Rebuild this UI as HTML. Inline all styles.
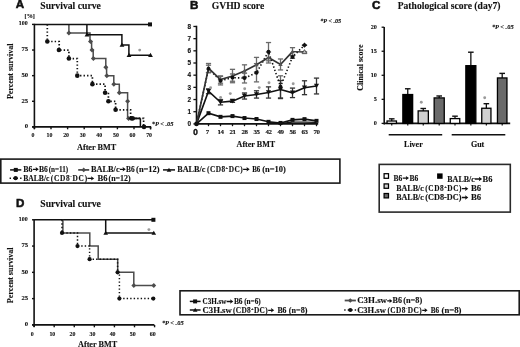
<!DOCTYPE html>
<html><head><meta charset="utf-8"><style>
html,body{margin:0;padding:0;background:#fff;}
body{width:520px;height:347px;overflow:hidden;}
svg{display:block;filter:grayscale(1) blur(0.35px);}
text{stroke:#111;stroke-width:0.12px;}

</style></head><body>
<svg width="520" height="347" viewBox="0 0 520 347">
<rect width="520" height="347" fill="#fff"/>
<text x="15.7" y="8.4" font-family="Liberation Sans" font-size="11.6" font-weight="bold" font-style="normal" text-anchor="start" fill="#111" style="stroke-width:0.55px">A</text>
<text x="40.3" y="8.8" font-family="Liberation Serif" font-size="9.7" font-weight="bold" font-style="normal" text-anchor="start" fill="#111">Survival curve</text>
<text x="24.6" y="18.4" font-family="Liberation Serif" font-size="6.2" font-weight="bold" font-style="normal" text-anchor="start" fill="#111">[%]</text>
<line x1="34.4" y1="23.8" x2="34.4" y2="129.1" stroke="#111" stroke-width="1.6" stroke-linecap="butt"/>
<line x1="32.2" y1="126.9" x2="151.2" y2="126.9" stroke="#111" stroke-width="1.6" stroke-linecap="butt"/>
<line x1="32" y1="126.9" x2="34.4" y2="126.9" stroke="#111" stroke-width="1.4" stroke-linecap="butt"/>
<text x="28.2" y="128.3" font-family="Liberation Serif" font-size="6.7" font-weight="bold" text-anchor="end" fill="#111">0</text>
<line x1="32" y1="101.28" x2="34.4" y2="101.28" stroke="#111" stroke-width="1.4" stroke-linecap="butt"/>
<text x="28.2" y="102.68" font-family="Liberation Serif" font-size="6.7" font-weight="bold" text-anchor="end" fill="#111">25</text>
<line x1="32" y1="75.65" x2="34.4" y2="75.65" stroke="#111" stroke-width="1.4" stroke-linecap="butt"/>
<text x="28.2" y="77.05" font-family="Liberation Serif" font-size="6.7" font-weight="bold" text-anchor="end" fill="#111">50</text>
<line x1="32" y1="50.03" x2="34.4" y2="50.03" stroke="#111" stroke-width="1.4" stroke-linecap="butt"/>
<text x="28.2" y="51.43" font-family="Liberation Serif" font-size="6.7" font-weight="bold" text-anchor="end" fill="#111">75</text>
<line x1="32" y1="24.4" x2="34.4" y2="24.4" stroke="#111" stroke-width="1.4" stroke-linecap="butt"/>
<text x="27.6" y="25.4" font-family="Liberation Serif" font-size="6.7" font-weight="bold" text-anchor="end" fill="#111" textLength="8.85" lengthAdjust="spacingAndGlyphs">100</text>
<line x1="34.4" y1="126.9" x2="34.4" y2="129.3" stroke="#111" stroke-width="1.4" stroke-linecap="butt"/>
<text x="32.9" y="136.9" font-family="Liberation Serif" font-size="6.5" font-weight="bold" text-anchor="middle" fill="#111" textLength="2.95" lengthAdjust="spacingAndGlyphs">0</text>
<line x1="51" y1="126.9" x2="51" y2="129.3" stroke="#111" stroke-width="1.4" stroke-linecap="butt"/>
<text x="49.5" y="136.9" font-family="Liberation Serif" font-size="6.5" font-weight="bold" text-anchor="middle" fill="#111" textLength="5.9" lengthAdjust="spacingAndGlyphs">10</text>
<line x1="67.6" y1="126.9" x2="67.6" y2="129.3" stroke="#111" stroke-width="1.4" stroke-linecap="butt"/>
<text x="66.1" y="136.9" font-family="Liberation Serif" font-size="6.5" font-weight="bold" text-anchor="middle" fill="#111" textLength="5.9" lengthAdjust="spacingAndGlyphs">20</text>
<line x1="84.2" y1="126.9" x2="84.2" y2="129.3" stroke="#111" stroke-width="1.4" stroke-linecap="butt"/>
<text x="82.7" y="136.9" font-family="Liberation Serif" font-size="6.5" font-weight="bold" text-anchor="middle" fill="#111" textLength="5.9" lengthAdjust="spacingAndGlyphs">30</text>
<line x1="100.8" y1="126.9" x2="100.8" y2="129.3" stroke="#111" stroke-width="1.4" stroke-linecap="butt"/>
<text x="99.3" y="136.9" font-family="Liberation Serif" font-size="6.5" font-weight="bold" text-anchor="middle" fill="#111" textLength="5.9" lengthAdjust="spacingAndGlyphs">40</text>
<line x1="117.4" y1="126.9" x2="117.4" y2="129.3" stroke="#111" stroke-width="1.4" stroke-linecap="butt"/>
<text x="115.9" y="136.9" font-family="Liberation Serif" font-size="6.5" font-weight="bold" text-anchor="middle" fill="#111" textLength="5.9" lengthAdjust="spacingAndGlyphs">50</text>
<line x1="134" y1="126.9" x2="134" y2="129.3" stroke="#111" stroke-width="1.4" stroke-linecap="butt"/>
<text x="132.5" y="136.9" font-family="Liberation Serif" font-size="6.5" font-weight="bold" text-anchor="middle" fill="#111" textLength="5.9" lengthAdjust="spacingAndGlyphs">60</text>
<line x1="150.6" y1="126.9" x2="150.6" y2="129.3" stroke="#111" stroke-width="1.4" stroke-linecap="butt"/>
<text x="149.1" y="136.9" font-family="Liberation Serif" font-size="6.5" font-weight="bold" text-anchor="middle" fill="#111" textLength="5.9" lengthAdjust="spacingAndGlyphs">70</text>
<line x1="150.5" y1="126.9" x2="150.5" y2="129.3" stroke="#111" stroke-width="1.4" stroke-linecap="butt"/>
<text x="13.4" y="71.3" font-family="Liberation Serif" font-size="8.0" font-weight="bold" font-style="normal" text-anchor="middle" fill="#111" transform="rotate(-90 13.4 71.3)">Percent survival</text>
<text x="96.6" y="150" font-family="Liberation Serif" font-size="8.2" font-weight="bold" font-style="normal" text-anchor="middle" fill="#111">After BMT</text>
<text x="151.8" y="125.6" font-family="Liberation Serif" font-size="6.4" font-weight="bold" font-style="italic" text-anchor="start" fill="#111">*<tspan font-style='italic'>P</tspan> &lt; .05</text>
<polyline points="68.9,24.4 68.9,32.91 90,32.91 90,41.52 91.6,41.52 91.6,50.03 93.2,50.03 93.2,58.53 105.8,58.53 105.8,67.14 106.6,67.14 106.6,75.65 113.8,75.65 113.8,84.16 119.3,84.16 119.3,92.77 127.6,92.77 127.6,118.39 140.4,118.39" fill="none" stroke="#4c4c4c" stroke-width="1.5" stroke-linejoin="miter" stroke-linecap="butt"/>
<polygon points="68.9,30.41 71.4,32.91 68.9,35.41 66.4,32.91" fill="#4c4c4c"/>
<polygon points="90.5,39.02 93,41.52 90.5,44.02 88,41.52" fill="#4c4c4c"/>
<polygon points="92,47.53 94.5,50.03 92,52.53 89.5,50.03" fill="#4c4c4c"/>
<polygon points="93.4,56.03 95.9,58.53 93.4,61.03 90.9,58.53" fill="#4c4c4c"/>
<polygon points="105.8,64.64 108.3,67.14 105.8,69.64 103.3,67.14" fill="#4c4c4c"/>
<polygon points="106.8,73.15 109.3,75.65 106.8,78.15 104.3,75.65" fill="#4c4c4c"/>
<polygon points="113.8,81.66 116.3,84.16 113.8,86.66 111.3,84.16" fill="#4c4c4c"/>
<polygon points="119.3,90.27 121.8,92.77 119.3,95.27 116.8,92.77" fill="#4c4c4c"/>
<polygon points="127.6,98.78 130.1,101.28 127.6,103.78 125.1,101.28" fill="#4c4c4c"/>
<polygon points="128.6,115.89 131.1,118.39 128.6,120.89 126.1,118.39" fill="#4c4c4c"/>
<polyline points="47.3,24.4 47.3,41.52 59.2,41.52 59.2,50.03 68.9,50.03 68.9,58.53 77.3,58.53 77.3,75.65 92.4,75.65 92.4,84.16 105.1,84.16 105.1,92.77 108.4,92.77 108.4,101.28 115.6,101.28 115.6,109.78 130.6,109.78 130.6,118.39 143.6,118.39 143.6,126.9" fill="none" stroke="#111" stroke-width="1.7" stroke-linejoin="miter" stroke-linecap="butt" stroke-dasharray="1.4 2.1"/>
<circle cx="47.3" cy="41.52" r="2.3" fill="#111"/>
<circle cx="58.9" cy="50.03" r="2.3" fill="#111"/>
<circle cx="68.9" cy="58.53" r="2.3" fill="#111"/>
<circle cx="77.3" cy="75.65" r="2.3" fill="#111"/>
<circle cx="92.4" cy="84.16" r="2.3" fill="#111"/>
<circle cx="105.1" cy="92.77" r="2.3" fill="#111"/>
<circle cx="108.4" cy="101.28" r="2.3" fill="#111"/>
<circle cx="115.6" cy="109.78" r="2.3" fill="#111"/>
<circle cx="131.8" cy="118.39" r="2.3" fill="#111"/>
<circle cx="144" cy="126.9" r="2.3" fill="#111"/>
<polyline points="86.9,24.4 86.9,34.65 121.9,34.65 121.9,44.9 128.9,44.9 128.9,55.15 150.5,55.15" fill="none" stroke="#111" stroke-width="1.5" stroke-linejoin="miter" stroke-linecap="butt"/>
<polygon points="84.6,36.44 89.4,36.44 87,32.26" fill="#111"/>
<polygon points="119.6,46.69 124.4,46.69 122,42.51" fill="#111"/>
<polygon points="126.6,56.94 131.4,56.94 129,52.76" fill="#111"/>
<polygon points="148.1,56.94 152.9,56.94 150.5,52.76" fill="#111"/>
<circle cx="139.7" cy="50.1" r="1.45" fill="#9a9a9a"/>
<line x1="128.6" y1="118.39" x2="140.4" y2="118.39" stroke="#111" stroke-width="1.5" stroke-linecap="butt"/>
<line x1="140.4" y1="118.39" x2="140.4" y2="126.9" stroke="#111" stroke-width="1.5" stroke-linecap="butt"/>
<circle cx="133" cy="118.39" r="2.1" fill="#111"/>
<line x1="34.4" y1="24.4" x2="150" y2="24.4" stroke="#111" stroke-width="1.5" stroke-linecap="butt"/>
<rect x="148" y="22.4" width="4" height="4" fill="#111"/>
<text x="190" y="8.5" font-family="Liberation Sans" font-size="11.6" font-weight="bold" font-style="normal" text-anchor="start" fill="#111" style="stroke-width:0.55px">B</text>
<text x="255.9" y="147.4" font-family="Liberation Serif" font-size="8.1" font-weight="bold" font-style="normal" text-anchor="middle" fill="#111">After BMT</text>
<text x="211.7" y="8.8" font-family="Liberation Serif" font-size="9.65" font-weight="bold" font-style="normal" text-anchor="start" fill="#111">GVHD score</text>
<text x="320.2" y="22.7" font-family="Liberation Serif" font-size="6.2" font-weight="bold" font-style="italic" text-anchor="start" fill="#111">*<tspan>P</tspan> &lt; .05</text>
<line x1="196.5" y1="25.76" x2="196.5" y2="124.9" stroke="#111" stroke-width="1.6" stroke-linecap="butt"/>
<line x1="196.5" y1="123.9" x2="318.2" y2="123.9" stroke="#111" stroke-width="1.7" stroke-linecap="butt"/>
<line x1="193.4" y1="123.9" x2="196.5" y2="123.9" stroke="#111" stroke-width="1.3" stroke-linecap="butt"/>
<line x1="193.4" y1="111.72" x2="196.5" y2="111.72" stroke="#111" stroke-width="1.3" stroke-linecap="butt"/>
<text x="191" y="113.92" font-family="Liberation Sans" font-size="6.4" font-weight="bold" font-style="normal" text-anchor="end" fill="#111">1</text>
<line x1="193.4" y1="99.54" x2="196.5" y2="99.54" stroke="#111" stroke-width="1.3" stroke-linecap="butt"/>
<text x="191" y="101.74" font-family="Liberation Sans" font-size="6.4" font-weight="bold" font-style="normal" text-anchor="end" fill="#111">2</text>
<line x1="193.4" y1="87.36" x2="196.5" y2="87.36" stroke="#111" stroke-width="1.3" stroke-linecap="butt"/>
<text x="191" y="89.56" font-family="Liberation Sans" font-size="6.4" font-weight="bold" font-style="normal" text-anchor="end" fill="#111">3</text>
<line x1="193.4" y1="75.18" x2="196.5" y2="75.18" stroke="#111" stroke-width="1.3" stroke-linecap="butt"/>
<text x="191" y="77.38" font-family="Liberation Sans" font-size="6.4" font-weight="bold" font-style="normal" text-anchor="end" fill="#111">4</text>
<line x1="193.4" y1="63" x2="196.5" y2="63" stroke="#111" stroke-width="1.3" stroke-linecap="butt"/>
<text x="191" y="65.2" font-family="Liberation Sans" font-size="6.4" font-weight="bold" font-style="normal" text-anchor="end" fill="#111">5</text>
<line x1="193.4" y1="50.82" x2="196.5" y2="50.82" stroke="#111" stroke-width="1.3" stroke-linecap="butt"/>
<text x="191" y="53.02" font-family="Liberation Sans" font-size="6.4" font-weight="bold" font-style="normal" text-anchor="end" fill="#111">6</text>
<line x1="193.4" y1="38.64" x2="196.5" y2="38.64" stroke="#111" stroke-width="1.3" stroke-linecap="butt"/>
<text x="191" y="40.84" font-family="Liberation Sans" font-size="6.4" font-weight="bold" font-style="normal" text-anchor="end" fill="#111">7</text>
<line x1="193.4" y1="26.46" x2="196.5" y2="26.46" stroke="#111" stroke-width="1.3" stroke-linecap="butt"/>
<text x="191" y="28.66" font-family="Liberation Sans" font-size="6.4" font-weight="bold" font-style="normal" text-anchor="end" fill="#111">8</text>
<text x="191" y="126.3" font-family="Liberation Sans" font-size="6.4" font-weight="bold" font-style="normal" text-anchor="end" fill="#111">0</text>
<line x1="208.5" y1="123.9" x2="208.5" y2="126.2" stroke="#111" stroke-width="1.3" stroke-linecap="butt"/>
<line x1="220.5" y1="123.9" x2="220.5" y2="126.2" stroke="#111" stroke-width="1.3" stroke-linecap="butt"/>
<line x1="232.5" y1="123.9" x2="232.5" y2="126.2" stroke="#111" stroke-width="1.3" stroke-linecap="butt"/>
<line x1="244.5" y1="123.9" x2="244.5" y2="126.2" stroke="#111" stroke-width="1.3" stroke-linecap="butt"/>
<line x1="256.5" y1="123.9" x2="256.5" y2="126.2" stroke="#111" stroke-width="1.3" stroke-linecap="butt"/>
<line x1="268.5" y1="123.9" x2="268.5" y2="126.2" stroke="#111" stroke-width="1.3" stroke-linecap="butt"/>
<line x1="280.5" y1="123.9" x2="280.5" y2="126.2" stroke="#111" stroke-width="1.3" stroke-linecap="butt"/>
<line x1="292.5" y1="123.9" x2="292.5" y2="126.2" stroke="#111" stroke-width="1.3" stroke-linecap="butt"/>
<line x1="304.5" y1="123.9" x2="304.5" y2="126.2" stroke="#111" stroke-width="1.3" stroke-linecap="butt"/>
<line x1="316.5" y1="123.9" x2="316.5" y2="126.2" stroke="#111" stroke-width="1.3" stroke-linecap="butt"/>
<text x="195.6" y="134.6" font-family="Liberation Sans" font-size="8.2" font-weight="bold" font-style="normal" text-anchor="middle" fill="#111" style="stroke-width:0.4px">0</text>
<text x="207.3" y="133.9" font-family="Liberation Serif" font-size="6.9" font-weight="bold" text-anchor="middle" fill="#111" letter-spacing="-0.45">7</text>
<text x="220.5" y="133.9" font-family="Liberation Serif" font-size="6.9" font-weight="bold" text-anchor="middle" fill="#111" letter-spacing="-0.45">14</text>
<text x="232.5" y="133.9" font-family="Liberation Serif" font-size="6.9" font-weight="bold" text-anchor="middle" fill="#111" letter-spacing="-0.45">21</text>
<text x="244.5" y="133.9" font-family="Liberation Serif" font-size="6.9" font-weight="bold" text-anchor="middle" fill="#111" letter-spacing="-0.45">28</text>
<text x="256.5" y="133.9" font-family="Liberation Serif" font-size="6.9" font-weight="bold" text-anchor="middle" fill="#111" letter-spacing="-0.45">35</text>
<text x="268.5" y="133.9" font-family="Liberation Serif" font-size="6.9" font-weight="bold" text-anchor="middle" fill="#111" letter-spacing="-0.45">42</text>
<text x="280.5" y="133.9" font-family="Liberation Serif" font-size="6.9" font-weight="bold" text-anchor="middle" fill="#111" letter-spacing="-0.45">49</text>
<text x="292.5" y="133.9" font-family="Liberation Serif" font-size="6.9" font-weight="bold" text-anchor="middle" fill="#111" letter-spacing="-0.45">56</text>
<text x="304.5" y="133.9" font-family="Liberation Serif" font-size="6.9" font-weight="bold" text-anchor="middle" fill="#111" letter-spacing="-0.45">63</text>
<text x="316.5" y="133.9" font-family="Liberation Serif" font-size="6.9" font-weight="bold" text-anchor="middle" fill="#111" letter-spacing="-0.45">70</text>
<line x1="208.5" y1="63.49" x2="208.5" y2="72.74" stroke="#6a6a6a" stroke-width="1.3" stroke-linecap="butt"/>
<line x1="205.9" y1="63.49" x2="211.1" y2="63.49" stroke="#6a6a6a" stroke-width="1.3" stroke-linecap="butt"/>
<line x1="205.9" y1="72.74" x2="211.1" y2="72.74" stroke="#6a6a6a" stroke-width="1.3" stroke-linecap="butt"/>
<line x1="220.5" y1="75.91" x2="220.5" y2="83.22" stroke="#6a6a6a" stroke-width="1.3" stroke-linecap="butt"/>
<line x1="217.9" y1="75.91" x2="223.1" y2="75.91" stroke="#6a6a6a" stroke-width="1.3" stroke-linecap="butt"/>
<line x1="217.9" y1="83.22" x2="223.1" y2="83.22" stroke="#6a6a6a" stroke-width="1.3" stroke-linecap="butt"/>
<line x1="232.5" y1="69.33" x2="232.5" y2="82.73" stroke="#6a6a6a" stroke-width="1.3" stroke-linecap="butt"/>
<line x1="229.9" y1="69.33" x2="235.1" y2="69.33" stroke="#6a6a6a" stroke-width="1.3" stroke-linecap="butt"/>
<line x1="229.9" y1="82.73" x2="235.1" y2="82.73" stroke="#6a6a6a" stroke-width="1.3" stroke-linecap="butt"/>
<line x1="244.5" y1="64.83" x2="244.5" y2="77.01" stroke="#6a6a6a" stroke-width="1.3" stroke-linecap="butt"/>
<line x1="241.9" y1="64.83" x2="247.1" y2="64.83" stroke="#6a6a6a" stroke-width="1.3" stroke-linecap="butt"/>
<line x1="241.9" y1="77.01" x2="247.1" y2="77.01" stroke="#6a6a6a" stroke-width="1.3" stroke-linecap="butt"/>
<line x1="256.5" y1="57.4" x2="256.5" y2="72.01" stroke="#6a6a6a" stroke-width="1.3" stroke-linecap="butt"/>
<line x1="253.9" y1="57.4" x2="259.1" y2="57.4" stroke="#6a6a6a" stroke-width="1.3" stroke-linecap="butt"/>
<line x1="253.9" y1="72.01" x2="259.1" y2="72.01" stroke="#6a6a6a" stroke-width="1.3" stroke-linecap="butt"/>
<line x1="268.5" y1="52.04" x2="268.5" y2="63" stroke="#6a6a6a" stroke-width="1.3" stroke-linecap="butt"/>
<line x1="265.9" y1="52.04" x2="271.1" y2="52.04" stroke="#6a6a6a" stroke-width="1.3" stroke-linecap="butt"/>
<line x1="265.9" y1="63" x2="271.1" y2="63" stroke="#6a6a6a" stroke-width="1.3" stroke-linecap="butt"/>
<line x1="280.5" y1="58.98" x2="280.5" y2="69.94" stroke="#6a6a6a" stroke-width="1.3" stroke-linecap="butt"/>
<line x1="277.9" y1="58.98" x2="283.1" y2="58.98" stroke="#6a6a6a" stroke-width="1.3" stroke-linecap="butt"/>
<line x1="277.9" y1="69.94" x2="283.1" y2="69.94" stroke="#6a6a6a" stroke-width="1.3" stroke-linecap="butt"/>
<line x1="292.5" y1="47.65" x2="292.5" y2="55.69" stroke="#6a6a6a" stroke-width="1.3" stroke-linecap="butt"/>
<line x1="289.9" y1="47.65" x2="295.1" y2="47.65" stroke="#6a6a6a" stroke-width="1.3" stroke-linecap="butt"/>
<line x1="289.9" y1="55.69" x2="295.1" y2="55.69" stroke="#6a6a6a" stroke-width="1.3" stroke-linecap="butt"/>
<line x1="304.5" y1="52.04" x2="304.5" y2="52.04" stroke="#6a6a6a" stroke-width="1.3" stroke-linecap="butt"/>
<line x1="301.9" y1="52.04" x2="307.1" y2="52.04" stroke="#6a6a6a" stroke-width="1.3" stroke-linecap="butt"/>
<line x1="301.9" y1="52.04" x2="307.1" y2="52.04" stroke="#6a6a6a" stroke-width="1.3" stroke-linecap="butt"/>
<line x1="208.5" y1="65.19" x2="208.5" y2="72.5" stroke="#6a6a6a" stroke-width="1.3" stroke-linecap="butt"/>
<line x1="205.9" y1="65.19" x2="211.1" y2="65.19" stroke="#6a6a6a" stroke-width="1.3" stroke-linecap="butt"/>
<line x1="205.9" y1="72.5" x2="211.1" y2="72.5" stroke="#6a6a6a" stroke-width="1.3" stroke-linecap="butt"/>
<line x1="220.5" y1="76.4" x2="220.5" y2="84.92" stroke="#6a6a6a" stroke-width="1.3" stroke-linecap="butt"/>
<line x1="217.9" y1="76.4" x2="223.1" y2="76.4" stroke="#6a6a6a" stroke-width="1.3" stroke-linecap="butt"/>
<line x1="217.9" y1="84.92" x2="223.1" y2="84.92" stroke="#6a6a6a" stroke-width="1.3" stroke-linecap="butt"/>
<line x1="232.5" y1="73.96" x2="232.5" y2="81.27" stroke="#6a6a6a" stroke-width="1.3" stroke-linecap="butt"/>
<line x1="229.9" y1="73.96" x2="235.1" y2="73.96" stroke="#6a6a6a" stroke-width="1.3" stroke-linecap="butt"/>
<line x1="229.9" y1="81.27" x2="235.1" y2="81.27" stroke="#6a6a6a" stroke-width="1.3" stroke-linecap="butt"/>
<line x1="244.5" y1="73.23" x2="244.5" y2="82.98" stroke="#6a6a6a" stroke-width="1.3" stroke-linecap="butt"/>
<line x1="241.9" y1="73.23" x2="247.1" y2="73.23" stroke="#6a6a6a" stroke-width="1.3" stroke-linecap="butt"/>
<line x1="241.9" y1="82.98" x2="247.1" y2="82.98" stroke="#6a6a6a" stroke-width="1.3" stroke-linecap="butt"/>
<line x1="256.5" y1="63.61" x2="256.5" y2="81.88" stroke="#6a6a6a" stroke-width="1.3" stroke-linecap="butt"/>
<line x1="253.9" y1="63.61" x2="259.1" y2="63.61" stroke="#6a6a6a" stroke-width="1.3" stroke-linecap="butt"/>
<line x1="253.9" y1="81.88" x2="259.1" y2="81.88" stroke="#6a6a6a" stroke-width="1.3" stroke-linecap="butt"/>
<line x1="268.5" y1="42.54" x2="268.5" y2="60.81" stroke="#6a6a6a" stroke-width="1.3" stroke-linecap="butt"/>
<line x1="265.9" y1="42.54" x2="271.1" y2="42.54" stroke="#6a6a6a" stroke-width="1.3" stroke-linecap="butt"/>
<line x1="265.9" y1="60.81" x2="271.1" y2="60.81" stroke="#6a6a6a" stroke-width="1.3" stroke-linecap="butt"/>
<line x1="280.5" y1="75.79" x2="280.5" y2="97.71" stroke="#6a6a6a" stroke-width="1.3" stroke-linecap="butt"/>
<line x1="277.9" y1="75.79" x2="283.1" y2="75.79" stroke="#6a6a6a" stroke-width="1.3" stroke-linecap="butt"/>
<line x1="277.9" y1="97.71" x2="283.1" y2="97.71" stroke="#6a6a6a" stroke-width="1.3" stroke-linecap="butt"/>
<line x1="292.5" y1="55.45" x2="292.5" y2="58.37" stroke="#6a6a6a" stroke-width="1.3" stroke-linecap="butt"/>
<line x1="289.9" y1="55.45" x2="295.1" y2="55.45" stroke="#6a6a6a" stroke-width="1.3" stroke-linecap="butt"/>
<line x1="289.9" y1="58.37" x2="295.1" y2="58.37" stroke="#6a6a6a" stroke-width="1.3" stroke-linecap="butt"/>
<line x1="304.5" y1="45.22" x2="304.5" y2="45.22" stroke="#6a6a6a" stroke-width="1.3" stroke-linecap="butt"/>
<line x1="301.9" y1="45.22" x2="307.1" y2="45.22" stroke="#6a6a6a" stroke-width="1.3" stroke-linecap="butt"/>
<line x1="301.9" y1="45.22" x2="307.1" y2="45.22" stroke="#6a6a6a" stroke-width="1.3" stroke-linecap="butt"/>
<line x1="208.5" y1="88.82" x2="208.5" y2="93.69" stroke="#333" stroke-width="1.3" stroke-linecap="butt"/>
<line x1="205.9" y1="88.82" x2="211.1" y2="88.82" stroke="#333" stroke-width="1.3" stroke-linecap="butt"/>
<line x1="205.9" y1="93.69" x2="211.1" y2="93.69" stroke="#333" stroke-width="1.3" stroke-linecap="butt"/>
<line x1="220.5" y1="99.54" x2="220.5" y2="104.9" stroke="#333" stroke-width="1.3" stroke-linecap="butt"/>
<line x1="217.9" y1="99.54" x2="223.1" y2="99.54" stroke="#333" stroke-width="1.3" stroke-linecap="butt"/>
<line x1="217.9" y1="104.9" x2="223.1" y2="104.9" stroke="#333" stroke-width="1.3" stroke-linecap="butt"/>
<line x1="232.5" y1="99.91" x2="232.5" y2="102.34" stroke="#333" stroke-width="1.3" stroke-linecap="butt"/>
<line x1="229.9" y1="99.91" x2="235.1" y2="99.91" stroke="#333" stroke-width="1.3" stroke-linecap="butt"/>
<line x1="229.9" y1="102.34" x2="235.1" y2="102.34" stroke="#333" stroke-width="1.3" stroke-linecap="butt"/>
<line x1="244.5" y1="92.96" x2="244.5" y2="99.05" stroke="#333" stroke-width="1.3" stroke-linecap="butt"/>
<line x1="241.9" y1="92.96" x2="247.1" y2="92.96" stroke="#333" stroke-width="1.3" stroke-linecap="butt"/>
<line x1="241.9" y1="99.05" x2="247.1" y2="99.05" stroke="#333" stroke-width="1.3" stroke-linecap="butt"/>
<line x1="256.5" y1="90.77" x2="256.5" y2="98.08" stroke="#333" stroke-width="1.3" stroke-linecap="butt"/>
<line x1="253.9" y1="90.77" x2="259.1" y2="90.77" stroke="#333" stroke-width="1.3" stroke-linecap="butt"/>
<line x1="253.9" y1="98.08" x2="259.1" y2="98.08" stroke="#333" stroke-width="1.3" stroke-linecap="butt"/>
<line x1="268.5" y1="86.87" x2="268.5" y2="98.08" stroke="#333" stroke-width="1.3" stroke-linecap="butt"/>
<line x1="265.9" y1="86.87" x2="271.1" y2="86.87" stroke="#333" stroke-width="1.3" stroke-linecap="butt"/>
<line x1="265.9" y1="98.08" x2="271.1" y2="98.08" stroke="#333" stroke-width="1.3" stroke-linecap="butt"/>
<line x1="280.5" y1="80.54" x2="280.5" y2="98.57" stroke="#333" stroke-width="1.3" stroke-linecap="butt"/>
<line x1="277.9" y1="80.54" x2="283.1" y2="80.54" stroke="#333" stroke-width="1.3" stroke-linecap="butt"/>
<line x1="277.9" y1="98.57" x2="283.1" y2="98.57" stroke="#333" stroke-width="1.3" stroke-linecap="butt"/>
<line x1="292.5" y1="88.09" x2="292.5" y2="97.59" stroke="#333" stroke-width="1.3" stroke-linecap="butt"/>
<line x1="289.9" y1="88.09" x2="295.1" y2="88.09" stroke="#333" stroke-width="1.3" stroke-linecap="butt"/>
<line x1="289.9" y1="97.59" x2="295.1" y2="97.59" stroke="#333" stroke-width="1.3" stroke-linecap="butt"/>
<line x1="304.5" y1="80.78" x2="304.5" y2="94.67" stroke="#333" stroke-width="1.3" stroke-linecap="butt"/>
<line x1="301.9" y1="80.78" x2="307.1" y2="80.78" stroke="#333" stroke-width="1.3" stroke-linecap="butt"/>
<line x1="301.9" y1="94.67" x2="307.1" y2="94.67" stroke="#333" stroke-width="1.3" stroke-linecap="butt"/>
<line x1="316.5" y1="78.1" x2="316.5" y2="93.94" stroke="#333" stroke-width="1.3" stroke-linecap="butt"/>
<line x1="313.9" y1="78.1" x2="319.1" y2="78.1" stroke="#333" stroke-width="1.3" stroke-linecap="butt"/>
<line x1="313.9" y1="93.94" x2="319.1" y2="93.94" stroke="#333" stroke-width="1.3" stroke-linecap="butt"/>
<polyline points="196.5,123.9 208.5,113.18 220.5,116.84 232.5,116.1 244.5,118.05 256.5,119.03 268.5,121.83 280.5,122.93 292.5,119.88 304.5,119.15 316.5,120.86" fill="none" stroke="#111" stroke-width="1.6" stroke-linejoin="miter" stroke-linecap="butt"/>
<polyline points="268.5,122.68 280.5,123.29 292.5,122.19 304.5,122.19 316.5,122.44" fill="none" stroke="#111" stroke-width="1.2" stroke-linejoin="miter" stroke-linecap="butt"/>
<polyline points="196.5,123.9 208.5,91.26 220.5,102.22 232.5,101.12 244.5,96.01 256.5,94.42 268.5,92.48 280.5,89.55 292.5,92.84 304.5,87.73 316.5,86.02" fill="none" stroke="#111" stroke-width="1.6" stroke-linejoin="miter" stroke-linecap="butt"/>
<polyline points="196.5,123.9 208.5,68.85 220.5,80.66 232.5,77.62 244.5,78.1 256.5,72.74 268.5,51.67 280.5,86.75 292.5,56.91 304.5,45.22" fill="none" stroke="#111" stroke-width="1.6" stroke-linejoin="miter" stroke-linecap="butt" stroke-dasharray="1.4 2.1"/>
<polyline points="196.5,123.9 208.5,68.12 220.5,79.56 232.5,76.03 244.5,70.92 256.5,64.71 268.5,57.52 280.5,64.46 292.5,51.67" fill="none" stroke="#333" stroke-width="1.7" stroke-linejoin="miter" stroke-linecap="butt"/>
<polyline points="292.5,51.67 304.5,52.04" fill="none" stroke="#333" stroke-width="1.4" stroke-linejoin="miter" stroke-linecap="butt"/>
<rect x="206.5" y="111.18" width="4" height="4" fill="#111"/>
<rect x="218.5" y="114.84" width="4" height="4" fill="#111"/>
<rect x="230.5" y="114.1" width="4" height="4" fill="#111"/>
<rect x="242.5" y="116.05" width="4" height="4" fill="#111"/>
<rect x="254.5" y="117.03" width="4" height="4" fill="#111"/>
<rect x="266.5" y="119.83" width="4" height="4" fill="#111"/>
<rect x="278.5" y="120.93" width="4" height="4" fill="#111"/>
<rect x="290.5" y="117.88" width="4" height="4" fill="#111"/>
<rect x="302.5" y="117.15" width="4" height="4" fill="#111"/>
<rect x="314.5" y="118.86" width="4" height="4" fill="#111"/>
<polygon points="205.9,89 211.1,89 208.5,93.52" fill="#111"/>
<polygon points="217.9,99.96 223.1,99.96 220.5,104.48" fill="#111"/>
<polygon points="229.9,98.86 235.1,98.86 232.5,103.39" fill="#111"/>
<polygon points="241.9,93.75 247.1,93.75 244.5,98.27" fill="#111"/>
<polygon points="253.9,92.16 259.1,92.16 256.5,96.69" fill="#111"/>
<polygon points="265.9,90.21 271.1,90.21 268.5,94.74" fill="#111"/>
<polygon points="277.9,87.29 283.1,87.29 280.5,91.81" fill="#111"/>
<polygon points="289.9,90.58 295.1,90.58 292.5,95.1" fill="#111"/>
<polygon points="301.9,85.46 307.1,85.46 304.5,89.99" fill="#111"/>
<polygon points="313.9,83.76 319.1,83.76 316.5,88.28" fill="#111"/>
<polygon points="206.3,69.73 210.7,69.73 208.5,65.9" fill="#555"/>
<polygon points="218.3,81.18 222.7,81.18 220.5,77.35" fill="#555"/>
<polygon points="230.3,77.65 234.7,77.65 232.5,73.82" fill="#555"/>
<polygon points="242.3,72.53 246.7,72.53 244.5,68.7" fill="#555"/>
<polygon points="254.3,66.32 258.7,66.32 256.5,62.49" fill="#555"/>
<polygon points="266.3,59.13 270.7,59.13 268.5,55.31" fill="#555"/>
<polygon points="278.3,66.08 282.7,66.08 280.5,62.25" fill="#555"/>
<polygon points="290.3,53.29 294.7,53.29 292.5,49.46" fill="#555"/>
<polygon points="302.1,53.64 306.9,53.64 304.5,49.64" fill="#bbb" stroke="#555" stroke-width="1"/>
<circle cx="208.5" cy="68.85" r="2" fill="#111"/>
<circle cx="220.5" cy="80.66" r="2" fill="#111"/>
<circle cx="232.5" cy="77.62" r="2" fill="#111"/>
<circle cx="244.5" cy="78.1" r="2" fill="#111"/>
<circle cx="256.5" cy="72.74" r="2" fill="#111"/>
<circle cx="268.5" cy="51.67" r="2" fill="#111"/>
<circle cx="280.5" cy="86.75" r="2" fill="#111"/>
<circle cx="292.5" cy="56.91" r="2" fill="#111"/>
<polygon points="304.5,42.62 307.1,45.22 304.5,47.82 301.9,45.22" fill="#111"/>
<circle cx="196.5" cy="123.9" r="2.3" fill="#111"/>
<circle cx="210.6" cy="87.8" r="1.45" fill="#9a9a9a"/>
<circle cx="220.6" cy="97.5" r="1.45" fill="#9a9a9a"/>
<circle cx="230.3" cy="93.6" r="1.45" fill="#9a9a9a"/>
<circle cx="244.7" cy="88.8" r="1.45" fill="#9a9a9a"/>
<circle cx="259.2" cy="87.6" r="1.45" fill="#9a9a9a"/>
<circle cx="269" cy="82.8" r="1.45" fill="#9a9a9a"/>
<circle cx="293.2" cy="83.8" r="1.45" fill="#9a9a9a"/>
<text x="372" y="8.5" font-family="Liberation Sans" font-size="11.6" font-weight="bold" font-style="normal" text-anchor="start" fill="#111" style="stroke-width:0.55px">C</text>
<text x="397.7" y="8.8" font-family="Liberation Serif" font-size="9.62" font-weight="bold" font-style="normal" text-anchor="start" fill="#111">Pathological score (day7)</text>
<text x="491.9" y="28.9" font-family="Liberation Serif" font-size="6.4" font-weight="bold" font-style="italic" text-anchor="start" fill="#111">*<tspan>P</tspan> &lt; .05</text>
<line x1="384.2" y1="27.1" x2="384.2" y2="124.4" stroke="#111" stroke-width="1.6" stroke-linecap="butt"/>
<line x1="384.2" y1="123.4" x2="510.2" y2="123.4" stroke="#111" stroke-width="1.6" stroke-linecap="butt"/>
<line x1="381.6" y1="123.4" x2="384.2" y2="123.4" stroke="#111" stroke-width="1.3" stroke-linecap="butt"/>
<text x="376.9" y="125.1" font-family="Liberation Serif" font-size="6.9" font-weight="bold" text-anchor="end" fill="#111" textLength="3.1" lengthAdjust="spacingAndGlyphs">0</text>
<line x1="381.6" y1="99.35" x2="384.2" y2="99.35" stroke="#111" stroke-width="1.3" stroke-linecap="butt"/>
<text x="376.9" y="101.05" font-family="Liberation Serif" font-size="6.9" font-weight="bold" text-anchor="end" fill="#111" textLength="3.1" lengthAdjust="spacingAndGlyphs">5</text>
<line x1="381.6" y1="75.3" x2="384.2" y2="75.3" stroke="#111" stroke-width="1.3" stroke-linecap="butt"/>
<text x="376.9" y="77" font-family="Liberation Serif" font-size="6.9" font-weight="bold" text-anchor="end" fill="#111" textLength="6.2" lengthAdjust="spacingAndGlyphs">10</text>
<line x1="381.6" y1="51.25" x2="384.2" y2="51.25" stroke="#111" stroke-width="1.3" stroke-linecap="butt"/>
<text x="376.9" y="52.95" font-family="Liberation Serif" font-size="6.9" font-weight="bold" text-anchor="end" fill="#111" textLength="6.2" lengthAdjust="spacingAndGlyphs">15</text>
<line x1="381.6" y1="27.2" x2="384.2" y2="27.2" stroke="#111" stroke-width="1.3" stroke-linecap="butt"/>
<text x="376.9" y="28.9" font-family="Liberation Serif" font-size="6.9" font-weight="bold" text-anchor="end" fill="#111" textLength="6.2" lengthAdjust="spacingAndGlyphs">20</text>
<text x="363" y="67.6" font-family="Liberation Serif" font-size="8.0" font-weight="bold" font-style="normal" text-anchor="middle" fill="#111" transform="rotate(-90 363 67.6)">Clinical score</text>
<line x1="391.75" y1="123.4" x2="391.75" y2="125.6" stroke="#111" stroke-width="1.2" stroke-linecap="butt"/>
<line x1="391.75" y1="121" x2="391.75" y2="118.83" stroke="#111" stroke-width="1.3" stroke-linecap="butt"/>
<line x1="388.95" y1="118.83" x2="394.55" y2="118.83" stroke="#111" stroke-width="1.4" stroke-linecap="butt"/>
<rect x="387.05" y="121" width="9.4" height="2.41" fill="#fff" stroke="#000" stroke-width="1.3"/>
<line x1="407.75" y1="123.4" x2="407.75" y2="125.6" stroke="#111" stroke-width="1.2" stroke-linecap="butt"/>
<line x1="407.75" y1="94.54" x2="407.75" y2="88.77" stroke="#111" stroke-width="1.3" stroke-linecap="butt"/>
<line x1="404.95" y1="88.77" x2="410.55" y2="88.77" stroke="#111" stroke-width="1.4" stroke-linecap="butt"/>
<rect x="402.85" y="94.54" width="9.8" height="28.86" fill="#000" stroke="#000" stroke-width="1.3"/>
<line x1="423.25" y1="123.4" x2="423.25" y2="125.6" stroke="#111" stroke-width="1.2" stroke-linecap="butt"/>
<line x1="423.25" y1="110.89" x2="423.25" y2="108.49" stroke="#111" stroke-width="1.3" stroke-linecap="butt"/>
<line x1="420.45" y1="108.49" x2="426.05" y2="108.49" stroke="#111" stroke-width="1.4" stroke-linecap="butt"/>
<rect x="418.15" y="110.89" width="10.2" height="12.51" fill="#d0d0d0" stroke="#000" stroke-width="1.3"/>
<line x1="439.2" y1="123.4" x2="439.2" y2="125.6" stroke="#111" stroke-width="1.2" stroke-linecap="butt"/>
<line x1="439.2" y1="97.91" x2="439.2" y2="95.98" stroke="#111" stroke-width="1.3" stroke-linecap="butt"/>
<line x1="436.4" y1="95.98" x2="442" y2="95.98" stroke="#111" stroke-width="1.4" stroke-linecap="butt"/>
<rect x="434.15" y="97.91" width="10.1" height="25.49" fill="#6a6a6a" stroke="#000" stroke-width="1.3"/>
<line x1="455" y1="123.4" x2="455" y2="125.6" stroke="#111" stroke-width="1.2" stroke-linecap="butt"/>
<line x1="455" y1="118.59" x2="455" y2="116.19" stroke="#111" stroke-width="1.3" stroke-linecap="butt"/>
<line x1="452.2" y1="116.19" x2="457.8" y2="116.19" stroke="#111" stroke-width="1.4" stroke-linecap="butt"/>
<rect x="450.25" y="118.59" width="9.5" height="4.81" fill="#fff" stroke="#000" stroke-width="1.3"/>
<line x1="470.85" y1="123.4" x2="470.85" y2="125.6" stroke="#111" stroke-width="1.2" stroke-linecap="butt"/>
<line x1="470.85" y1="65.68" x2="470.85" y2="52.21" stroke="#111" stroke-width="1.3" stroke-linecap="butt"/>
<line x1="468.05" y1="52.21" x2="473.65" y2="52.21" stroke="#111" stroke-width="1.4" stroke-linecap="butt"/>
<rect x="465.85" y="65.68" width="10" height="57.72" fill="#000" stroke="#000" stroke-width="1.3"/>
<line x1="486.35" y1="123.4" x2="486.35" y2="125.6" stroke="#111" stroke-width="1.2" stroke-linecap="butt"/>
<line x1="486.35" y1="108.25" x2="486.35" y2="103.68" stroke="#111" stroke-width="1.3" stroke-linecap="butt"/>
<line x1="483.55" y1="103.68" x2="489.15" y2="103.68" stroke="#111" stroke-width="1.4" stroke-linecap="butt"/>
<rect x="481.75" y="108.25" width="9.2" height="15.15" fill="#d0d0d0" stroke="#000" stroke-width="1.3"/>
<line x1="502.2" y1="123.4" x2="502.2" y2="125.6" stroke="#111" stroke-width="1.2" stroke-linecap="butt"/>
<line x1="502.2" y1="77.95" x2="502.2" y2="73.38" stroke="#111" stroke-width="1.3" stroke-linecap="butt"/>
<line x1="499.4" y1="73.38" x2="505" y2="73.38" stroke="#111" stroke-width="1.4" stroke-linecap="butt"/>
<rect x="497.45" y="77.95" width="9.5" height="45.45" fill="#6a6a6a" stroke="#000" stroke-width="1.3"/>
<circle cx="421.3" cy="102.3" r="1.45" fill="#9a9a9a"/>
<circle cx="484.7" cy="97.7" r="1.45" fill="#9a9a9a"/>
<line x1="388.7" y1="134.7" x2="442.2" y2="134.7" stroke="#111" stroke-width="1.6" stroke-linecap="butt"/>
<line x1="451.7" y1="134.7" x2="505.3" y2="134.7" stroke="#111" stroke-width="1.6" stroke-linecap="butt"/>
<text x="413.4" y="147.3" font-family="Liberation Serif" font-size="8.0" font-weight="bold" font-style="normal" text-anchor="middle" fill="#111">Liver</text>
<text x="477.6" y="147.3" font-family="Liberation Serif" font-size="8.0" font-weight="bold" font-style="normal" text-anchor="middle" fill="#111">Gut</text>
<text x="15.9" y="206.8" font-family="Liberation Sans" font-size="11.6" font-weight="bold" font-style="normal" text-anchor="start" fill="#111" style="stroke-width:0.55px">D</text>
<text x="40.3" y="206.6" font-family="Liberation Serif" font-size="9.7" font-weight="bold" font-style="normal" text-anchor="start" fill="#111">Survival curve</text>
<line x1="34.1" y1="219.2" x2="34.1" y2="327.1" stroke="#111" stroke-width="1.6" stroke-linecap="butt"/>
<line x1="32.2" y1="324.9" x2="154.3" y2="324.9" stroke="#111" stroke-width="1.6" stroke-linecap="butt"/>
<line x1="32" y1="324.9" x2="34.1" y2="324.9" stroke="#111" stroke-width="1.4" stroke-linecap="butt"/>
<text x="28.2" y="326.3" font-family="Liberation Serif" font-size="6.7" font-weight="bold" text-anchor="end" fill="#111">0</text>
<line x1="32" y1="298.62" x2="34.1" y2="298.62" stroke="#111" stroke-width="1.4" stroke-linecap="butt"/>
<text x="28.2" y="300.02" font-family="Liberation Serif" font-size="6.7" font-weight="bold" text-anchor="end" fill="#111">25</text>
<line x1="32" y1="272.35" x2="34.1" y2="272.35" stroke="#111" stroke-width="1.4" stroke-linecap="butt"/>
<text x="28.2" y="273.75" font-family="Liberation Serif" font-size="6.7" font-weight="bold" text-anchor="end" fill="#111">50</text>
<line x1="32" y1="246.07" x2="34.1" y2="246.07" stroke="#111" stroke-width="1.4" stroke-linecap="butt"/>
<text x="28.2" y="247.47" font-family="Liberation Serif" font-size="6.7" font-weight="bold" text-anchor="end" fill="#111">75</text>
<line x1="32" y1="219.8" x2="34.1" y2="219.8" stroke="#111" stroke-width="1.4" stroke-linecap="butt"/>
<text x="27.6" y="220.8" font-family="Liberation Serif" font-size="6.7" font-weight="bold" text-anchor="end" fill="#111" textLength="8.85" lengthAdjust="spacingAndGlyphs">100</text>
<line x1="34.1" y1="324.9" x2="34.1" y2="327.3" stroke="#111" stroke-width="1.4" stroke-linecap="butt"/>
<text x="32.3" y="335.5" font-family="Liberation Serif" font-size="6.5" font-weight="bold" text-anchor="middle" fill="#111" textLength="2.95" lengthAdjust="spacingAndGlyphs">0</text>
<line x1="54.18" y1="324.9" x2="54.18" y2="327.3" stroke="#111" stroke-width="1.4" stroke-linecap="butt"/>
<text x="52.38" y="335.5" font-family="Liberation Serif" font-size="6.5" font-weight="bold" text-anchor="middle" fill="#111" textLength="5.9" lengthAdjust="spacingAndGlyphs">10</text>
<line x1="74.26" y1="324.9" x2="74.26" y2="327.3" stroke="#111" stroke-width="1.4" stroke-linecap="butt"/>
<text x="72.46" y="335.5" font-family="Liberation Serif" font-size="6.5" font-weight="bold" text-anchor="middle" fill="#111" textLength="5.9" lengthAdjust="spacingAndGlyphs">20</text>
<line x1="94.34" y1="324.9" x2="94.34" y2="327.3" stroke="#111" stroke-width="1.4" stroke-linecap="butt"/>
<text x="92.54" y="335.5" font-family="Liberation Serif" font-size="6.5" font-weight="bold" text-anchor="middle" fill="#111" textLength="5.9" lengthAdjust="spacingAndGlyphs">30</text>
<line x1="114.42" y1="324.9" x2="114.42" y2="327.3" stroke="#111" stroke-width="1.4" stroke-linecap="butt"/>
<text x="112.62" y="335.5" font-family="Liberation Serif" font-size="6.5" font-weight="bold" text-anchor="middle" fill="#111" textLength="5.9" lengthAdjust="spacingAndGlyphs">40</text>
<line x1="134.5" y1="324.9" x2="134.5" y2="327.3" stroke="#111" stroke-width="1.4" stroke-linecap="butt"/>
<text x="132.7" y="335.5" font-family="Liberation Serif" font-size="6.5" font-weight="bold" text-anchor="middle" fill="#111" textLength="5.9" lengthAdjust="spacingAndGlyphs">50</text>
<line x1="154.58" y1="324.9" x2="154.58" y2="327.3" stroke="#111" stroke-width="1.4" stroke-linecap="butt"/>
<text x="152.78" y="335.5" font-family="Liberation Serif" font-size="6.5" font-weight="bold" text-anchor="middle" fill="#111" textLength="5.9" lengthAdjust="spacingAndGlyphs">60</text>
<text x="13.4" y="275.4" font-family="Liberation Serif" font-size="8.0" font-weight="bold" font-style="normal" text-anchor="middle" fill="#111" transform="rotate(-90 13.4 275.4)">Percent survival</text>
<text x="97.6" y="347" font-family="Liberation Serif" font-size="8.2" font-weight="bold" font-style="normal" text-anchor="middle" fill="#111">After BMT</text>
<text x="161.9" y="325" font-family="Liberation Serif" font-size="6.4" font-weight="bold" font-style="italic" text-anchor="start" fill="#111">*<tspan>P</tspan> &lt; .05</text>
<line x1="34.1" y1="219.8" x2="153.4" y2="219.8" stroke="#111" stroke-width="1.5" stroke-linecap="butt"/>
<rect x="151.4" y="217.8" width="4" height="4" fill="#111"/>
<polyline points="105.7,219.8 105.7,232.94 153.8,232.94" fill="none" stroke="#111" stroke-width="1.5" stroke-linejoin="miter" stroke-linecap="butt"/>
<polygon points="103.4,234.64 108,234.64 105.7,230.64" fill="#111"/>
<polygon points="151.5,234.64 156.1,234.64 153.8,230.64" fill="#111"/>
<circle cx="148.9" cy="229.6" r="1.45" fill="#9a9a9a"/>
<polyline points="62.9,219.8 62.9,232.94 89.8,232.94 89.8,246.07 98.2,246.07 98.2,259.21 117.7,259.21 117.7,272.35 133.8,272.35 133.8,285.49 153.8,285.49" fill="none" stroke="#4c4c4c" stroke-width="1.5" stroke-linejoin="miter" stroke-linecap="butt"/>
<polygon points="133.8,283.09 136.2,285.49 133.8,287.89 131.4,285.49" fill="#4c4c4c"/>
<polygon points="153.8,283.09 156.2,285.49 153.8,287.89 151.4,285.49" fill="#4c4c4c"/>
<polyline points="62,219.8 62,232.94 77.5,232.94 77.5,246.07 89.6,246.07 89.6,259.21 117.6,259.21 117.6,272.35 119.4,272.35 119.4,298.62 153.3,298.62" fill="none" stroke="#111" stroke-width="1.5" stroke-linejoin="miter" stroke-linecap="butt" stroke-dasharray="1.4 2.1"/>
<circle cx="62" cy="232.94" r="2.1" fill="#111"/>
<circle cx="77.5" cy="246.07" r="2.1" fill="#111"/>
<circle cx="89.6" cy="259.21" r="2.1" fill="#111"/>
<circle cx="117.6" cy="272.35" r="2.1" fill="#111"/>
<circle cx="119.4" cy="298.62" r="2.1" fill="#111"/>
<circle cx="153.3" cy="298.62" r="2.1" fill="#111"/>
<rect x="0.8" y="159.1" width="339.1" height="24" fill="none" stroke="#1a1a1a" stroke-width="1.6"/>
<line x1="10.1" y1="169.9" x2="21.3" y2="169.9" stroke="#111" stroke-width="1.5" stroke-linecap="butt"/>
<rect x="13.8" y="167.9" width="4" height="4" fill="#111"/>
<text x="23.2" y="171.8" font-family="Liberation Serif" font-size="7.35" font-weight="bold" fill="#111" textLength="9.3" lengthAdjust="spacingAndGlyphs">B6</text>
<polygon points="33,168.64 36.01,168.64 35.61,167.1 38.8,169.3 35.61,171.51 36.01,169.96 33,169.96" fill="#111"/>
<text x="39" y="171.8" font-family="Liberation Serif" font-size="7.35" font-weight="bold" fill="#111" textLength="8.9" lengthAdjust="spacingAndGlyphs">B6</text>
<text x="48.7" y="171.8" font-family="Liberation Serif" font-size="7.35" font-weight="bold" fill="#111" textLength="19.5" lengthAdjust="spacingAndGlyphs">(n=11)</text>
<line x1="78.2" y1="169.9" x2="89.2" y2="169.9" stroke="#4c4c4c" stroke-width="1.8" stroke-linecap="butt"/>
<polygon points="83.7,167.6 86,169.9 83.7,172.2 81.4,169.9" fill="#4c4c4c"/>
<text x="91" y="171.8" font-family="Liberation Serif" font-size="7.35" font-weight="bold" fill="#111" textLength="28.6" lengthAdjust="spacingAndGlyphs">BALB/c</text>
<polygon points="120,168.64 123.01,168.64 122.61,167.1 125.8,169.3 122.61,171.51 123.01,169.96 120,169.96" fill="#111"/>
<text x="126" y="171.8" font-family="Liberation Serif" font-size="7.35" font-weight="bold" fill="#111" textLength="8.6" lengthAdjust="spacingAndGlyphs">B6</text>
<text x="136.1" y="171.8" font-family="Liberation Serif" font-size="7.35" font-weight="bold" fill="#111" textLength="23.5" lengthAdjust="spacingAndGlyphs">(n=12)</text>
<line x1="163" y1="169.9" x2="175" y2="169.9" stroke="#111" stroke-width="1.5" stroke-linecap="butt"/>
<polygon points="166.7,171.7 171.3,171.7 169,167.7" fill="#111"/>
<text x="177.3" y="171.8" font-family="Liberation Serif" font-size="7.35" font-weight="bold" fill="#111" textLength="28.1" lengthAdjust="spacingAndGlyphs">BALB/c</text>
<text x="207.1" y="171.8" font-family="Liberation Serif" font-size="7.35" font-weight="bold" fill="#111" textLength="35.5" lengthAdjust="spacing">(CD8<tspan dy="-2.79" font-size="4.56">+</tspan><tspan dy="2.79">DC)</tspan></text>
<polygon points="243.1,168.64 246.91,168.64 246.51,167.1 249.7,169.3 246.51,171.51 246.91,169.96 243.1,169.96" fill="#111"/>
<text x="252.2" y="171.8" font-family="Liberation Serif" font-size="7.35" font-weight="bold" fill="#111" textLength="8.1" lengthAdjust="spacingAndGlyphs">B6</text>
<text x="262.2" y="171.8" font-family="Liberation Serif" font-size="7.35" font-weight="bold" fill="#111" textLength="23.6" lengthAdjust="spacingAndGlyphs">(n=10)</text>
<line x1="9.6" y1="178.2" x2="21.6" y2="178.2" stroke="#111" stroke-width="1.4" stroke-linecap="butt" stroke-dasharray="1.4 2.1"/>
<circle cx="15.6" cy="178.2" r="2.1" fill="#111"/>
<text x="23.3" y="180.9" font-family="Liberation Serif" font-size="7.35" font-weight="bold" fill="#111" textLength="26.1" lengthAdjust="spacingAndGlyphs">BALB/c</text>
<text x="50.7" y="180.9" font-family="Liberation Serif" font-size="7.35" font-weight="bold" fill="#111" textLength="36.4" lengthAdjust="spacing">(CD8<tspan dy="-2.79" font-size="4.56">-</tspan><tspan dy="2.79">DC)</tspan></text>
<polygon points="87.4,177.74 91.41,177.74 91.01,176.2 94.2,178.4 91.01,180.61 91.41,179.06 87.4,179.06" fill="#111"/>
<text x="97.5" y="180.9" font-family="Liberation Serif" font-size="7.35" font-weight="bold" fill="#111" textLength="10" lengthAdjust="spacingAndGlyphs">B6</text>
<text x="108.6" y="180.9" font-family="Liberation Serif" font-size="7.35" font-weight="bold" fill="#111" textLength="22" lengthAdjust="spacingAndGlyphs">(n=12)</text>
<rect x="379.2" y="164.4" width="131.1" height="47.7" fill="none" stroke="#2a2a2a" stroke-width="1.6"/>
<rect x="384.1" y="173.7" width="4.4" height="4.6" fill="#fff" stroke="#000" stroke-width="1.25"/>
<rect x="384.1" y="183.9" width="4.4" height="4.4" fill="#d0d0d0" stroke="#000" stroke-width="1.25"/>
<rect x="384.1" y="193.5" width="4.4" height="4.4" fill="#6a6a6a" stroke="#000" stroke-width="1.25"/>
<rect x="437.1" y="173.4" width="5.5" height="5.4" fill="#000"/>
<text x="393.5" y="180.6" font-family="Liberation Serif" font-size="7.35" font-weight="bold" fill="#111" textLength="8.8" lengthAdjust="spacingAndGlyphs">B6</text>
<polygon points="402.7,177.44 406.21,177.44 405.81,175.9 409,178.1 405.81,180.31 406.21,178.76 402.7,178.76" fill="#111"/>
<text x="409.4" y="180.6" font-family="Liberation Serif" font-size="7.35" font-weight="bold" fill="#111" textLength="8.8" lengthAdjust="spacingAndGlyphs">B6</text>
<text x="447.3" y="181.5" font-family="Liberation Serif" font-size="7.35" font-weight="bold" fill="#111" textLength="27.5" lengthAdjust="spacingAndGlyphs">BALB/c</text>
<polygon points="474.9,178.34 479.31,178.34 478.91,176.8 482.1,179 478.91,181.21 479.31,179.66 474.9,179.66" fill="#111"/>
<text x="482.5" y="181.5" font-family="Liberation Serif" font-size="7.35" font-weight="bold" fill="#111" textLength="9.9" lengthAdjust="spacingAndGlyphs">B6</text>
<text x="396.2" y="191.2" font-family="Liberation Serif" font-size="7.35" font-weight="bold" fill="#111" textLength="27.7" lengthAdjust="spacingAndGlyphs">BALB/c</text>
<text x="425.3" y="191.2" font-family="Liberation Serif" font-size="7.35" font-weight="bold" fill="#111" textLength="36.2" lengthAdjust="spacing">(CD8<tspan dy="-2.79" font-size="4.56">+</tspan><tspan dy="2.79">DC)</tspan></text>
<polygon points="461.9,188.04 465.51,188.04 465.11,186.5 468.3,188.7 465.11,190.91 465.51,189.36 461.9,189.36" fill="#111"/>
<text x="471" y="191.2" font-family="Liberation Serif" font-size="7.35" font-weight="bold" fill="#111" textLength="10.2" lengthAdjust="spacingAndGlyphs">B6</text>
<text x="396.2" y="200" font-family="Liberation Serif" font-size="7.35" font-weight="bold" fill="#111" textLength="27.7" lengthAdjust="spacingAndGlyphs">BALB/c</text>
<text x="425.3" y="200" font-family="Liberation Serif" font-size="7.35" font-weight="bold" fill="#111" textLength="36.2" lengthAdjust="spacingAndGlyphs">(CD8-DC)</text>
<polygon points="461.9,196.84 465.51,196.84 465.11,195.3 468.3,197.5 465.11,199.71 465.51,198.16 461.9,198.16" fill="#111"/>
<text x="471" y="200" font-family="Liberation Serif" font-size="7.35" font-weight="bold" fill="#111" textLength="10.2" lengthAdjust="spacingAndGlyphs">B6</text>
<rect x="180" y="290.8" width="339.2" height="24" fill="none" stroke="#1a1a1a" stroke-width="1.6"/>
<line x1="189.8" y1="301.4" x2="200.6" y2="301.4" stroke="#111" stroke-width="1.5" stroke-linecap="butt"/>
<rect x="193.1" y="299.4" width="4" height="4" fill="#111"/>
<text x="202.5" y="304" font-family="Liberation Serif" font-size="7.35" font-weight="bold" fill="#111" textLength="24" lengthAdjust="spacingAndGlyphs">C3H.sw</text>
<polygon points="226.6,300.84 230.51,300.84 230.11,299.3 233.3,301.5 230.11,303.71 230.51,302.16 226.6,302.16" fill="#111"/>
<text x="233.9" y="304" font-family="Liberation Serif" font-size="7.35" font-weight="bold" fill="#111" textLength="8.7" lengthAdjust="spacingAndGlyphs">B6</text>
<text x="244.2" y="304" font-family="Liberation Serif" font-size="7.35" font-weight="bold" fill="#111" textLength="16.6" lengthAdjust="spacingAndGlyphs">(n=6)</text>
<line x1="189.8" y1="310" x2="200.6" y2="310" stroke="#111" stroke-width="1.5" stroke-linecap="butt"/>
<polygon points="192.9,311.8 197.5,311.8 195.2,307.8" fill="#111"/>
<text x="202.5" y="312.8" font-family="Liberation Serif" font-size="7.35" font-weight="bold" fill="#111" textLength="29.3" lengthAdjust="spacingAndGlyphs">C3H.sw</text>
<text x="233.1" y="312.8" font-family="Liberation Serif" font-size="7.35" font-weight="bold" fill="#111" textLength="34.6" lengthAdjust="spacing">(CD8<tspan dy="-2.79" font-size="4.56">+</tspan><tspan dy="2.79">DC)</tspan></text>
<polygon points="268.2,309.64 271.41,309.64 271.01,308.1 274.2,310.3 271.01,312.51 271.41,310.96 268.2,310.96" fill="#111"/>
<text x="277.4" y="312.8" font-family="Liberation Serif" font-size="7.35" font-weight="bold" fill="#111" textLength="9.1" lengthAdjust="spacingAndGlyphs">B6</text>
<text x="288.8" y="312.8" font-family="Liberation Serif" font-size="7.35" font-weight="bold" fill="#111" textLength="18.6" lengthAdjust="spacingAndGlyphs">(n=8)</text>
<line x1="344.7" y1="300.5" x2="355.9" y2="300.5" stroke="#4c4c4c" stroke-width="1.8" stroke-linecap="butt"/>
<polygon points="350.3,298.2 352.6,300.5 350.3,302.8 348,300.5" fill="#4c4c4c"/>
<text x="357.2" y="303.4" font-family="Liberation Serif" font-size="7.35" font-weight="bold" fill="#111" textLength="29.8" lengthAdjust="spacingAndGlyphs">C3H.sw</text>
<polygon points="387.2,300.24 389.8,300.24 389.4,298.7 392.4,300.9 389.4,303.11 389.8,301.56 387.2,301.56" fill="#111"/>
<text x="392.6" y="303.4" font-family="Liberation Serif" font-size="7.35" font-weight="bold" fill="#111" textLength="9.4" lengthAdjust="spacingAndGlyphs">B6</text>
<text x="403.3" y="303.4" font-family="Liberation Serif" font-size="7.35" font-weight="bold" fill="#111" textLength="18.9" lengthAdjust="spacingAndGlyphs">(n=8)</text>
<line x1="344.2" y1="310" x2="356.4" y2="310" stroke="#111" stroke-width="1.4" stroke-linecap="butt" stroke-dasharray="1.4 2.1"/>
<circle cx="350.3" cy="310" r="2.1" fill="#111"/>
<text x="357.2" y="312.8" font-family="Liberation Serif" font-size="7.35" font-weight="bold" fill="#111" textLength="28.6" lengthAdjust="spacingAndGlyphs">C3H.sw</text>
<text x="387.4" y="312.8" font-family="Liberation Serif" font-size="7.35" font-weight="bold" fill="#111" textLength="34.3" lengthAdjust="spacing">(CD8<tspan dy="-2.79" font-size="4.56">-</tspan><tspan dy="2.79">DC)</tspan></text>
<polygon points="422.2,309.64 424.9,309.64 424.5,308.1 427.6,310.3 424.5,312.51 424.9,310.96 422.2,310.96" fill="#111"/>
<text x="430.8" y="312.8" font-family="Liberation Serif" font-size="7.35" font-weight="bold" fill="#111" textLength="8.4" lengthAdjust="spacingAndGlyphs">B6</text>
<text x="441.5" y="312.8" font-family="Liberation Serif" font-size="7.35" font-weight="bold" fill="#111" textLength="19.9" lengthAdjust="spacingAndGlyphs">(n=8)</text>
</svg>
</body></html>
